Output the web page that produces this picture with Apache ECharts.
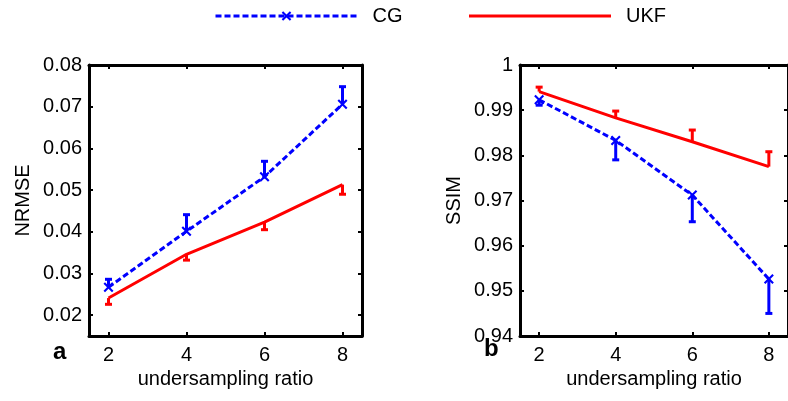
<!DOCTYPE html>
<html>
<head>
<meta charset="utf-8">
<script src="https://cdn.jsdelivr.net/npm/echarts@6/dist/echarts.min.js"></script>
<style>
  html, body { margin: 0; padding: 0; background: #fff; }
  #chart { width: 788px; height: 401px; }
</style>
</head>
<body>
<div id="chart"></div>
<script>
// undersampling ratios on the x axis
var ratios = [2, 4, 6, 8];
var xTicks = [2, 4, 6, 8];
var nrmseTicks = [0.02, 0.03, 0.04, 0.05, 0.06, 0.07, 0.08];
var ssimTicks = [0.94, 0.95, 0.96, 0.97, 0.98, 0.99, 1];

// panel a - NRMSE (mean and end of the one-sided error bar)
var nrmseCG = [0.0267, 0.0401, 0.0532, 0.0706];
var nrmseCGTop = [0.0286, 0.0441, 0.0569, 0.0748];
var nrmseUKF = [0.0241, 0.0346, 0.0423, 0.0513];
var nrmseUKFLow = [0.0226, 0.0332, 0.0405, 0.0490];

// panel b - SSIM
var ssimCG = [0.9923, 0.9833, 0.9712, 0.9526];
var ssimCGLow = [0.9911, 0.9790, 0.9653, 0.9450];
var ssimUKF = [0.9941, 0.9883, 0.9830, 0.9775];
var ssimUKFTop = [0.9951, 0.9898, 0.9856, 0.9808];

var FONT = "'Liberation Sans', Arial, sans-serif";
var BLUE = "#0000ff";
var RED = "#ff0000";
var crossPath = "path://M0,1.5L1.5,0L5,3.5L8.5,0L10,1.5L6.5,5L10,8.5L8.5,10L5,6.5L1.5,10L0,8.5L3.5,5Z";

function pairs(xs, ys) {
  return xs.map(function (x, i) { return [x, ys[i]]; });
}
function triples(xs, a, b) {
  return xs.map(function (x, i) { return [x, a[i], b[i]]; });
}

// vertical error bar with a cap at the far end
function errBar(params, api) {
  var x = api.value(0);
  var p0 = api.coord([x, api.value(1)]);
  var p1 = api.coord([x, api.value(2)]);
  var c = api.visual("color");
  return {
    type: "group",
    children: [
      { type: "line", shape: { x1: p0[0], y1: p0[1], x2: p1[0], y2: p1[1] }, style: { stroke: c, lineWidth: 3 } },
      { type: "line", shape: { x1: p1[0] - 3.5, y1: p1[1], x2: p1[0] + 3.5, y2: p1[1] }, style: { stroke: c, lineWidth: 3 } }
    ]
  };
}

function xAxes(grid) {
  var base = {
    type: "value", gridIndex: grid, min: 1.5, max: 8.5,
    splitLine: { show: false },
    axisLine: { show: true, lineStyle: { color: "#000", width: 3 } },
    axisTick: { show: true, inside: true, length: 4, customValues: xTicks, lineStyle: { color: "#000", width: 2 } }
  };
  var bottom = Object.assign({}, base, {
    position: "bottom",
    name: "undersampling ratio", nameLocation: "middle", nameGap: 30,
    nameTextStyle: { fontSize: 20, color: "#000", fontFamily: FONT },
    axisLabel: { show: true, customValues: xTicks, fontSize: 20, color: "#000", margin: 9, fontFamily: FONT }
  });
  var top = Object.assign({}, base, { position: "top", axisLabel: { show: false } });
  return [bottom, top];
}

function yAxes(grid, min, max, ticks, name, fmt) {
  var base = {
    type: "value", gridIndex: grid, min: min, max: max,
    splitLine: { show: false },
    axisLine: { show: true, lineStyle: { color: "#000", width: 3 } },
    axisTick: { show: true, inside: true, length: 4, customValues: ticks, lineStyle: { color: "#000", width: 2 } }
  };
  var left = Object.assign({}, base, {
    position: "left",
    name: name, nameLocation: "middle", nameGap: 56,
    nameTextStyle: { fontSize: 20, color: "#000", fontFamily: FONT },
    axisLabel: { show: true, customValues: ticks, fontSize: 20, color: "#000", margin: 7, fontFamily: FONT, formatter: fmt }
  });
  var right = Object.assign({}, base, { position: "right", axisLabel: { show: false } });
  return [left, right];
}

var chart = echarts.init(document.getElementById("chart"), null, { renderer: "canvas" });

var option = {
  animation: false,
  backgroundColor: "#fff",
  textStyle: { fontFamily: FONT },
  legend: {
    data: [
      { name: "CG" },
      { name: "UKF", itemStyle: { opacity: 0 } }
    ],
    left: 209,
    top: 1,
    itemWidth: 142,
    itemHeight: 12,
    itemGap: 65,
    lineStyle: { width: 3 },
    textStyle: { fontSize: 20, color: "#000", fontFamily: FONT, padding: [0, 0, 0, 10] }
  },
  grid: [
    { left: 89, top: 65, width: 273, height: 271 },
    { left: 520, top: 65, width: 273, height: 271 }
  ],
  xAxis: xAxes(0).concat(xAxes(1)),
  yAxis: yAxes(0, 0.015, 0.08, nrmseTicks, "NRMSE", function (v) { return v.toFixed(2); })
    .concat(yAxes(1, 0.94, 1, ssimTicks, "SSIM", function (v) { return v >= 0.9999 ? "1" : v.toFixed(2); })),
  graphic: [
    { type: "text", left: 53, top: 340, style: { text: "a", font: "bold 24px " + FONT, fill: "#000" } },
    { type: "text", left: 484, top: 337, style: { text: "b", font: "bold 24px " + FONT, fill: "#000" } }
  ],
  series: [
    // panel a
    { type: "custom", name: "UKF err", xAxisIndex: 0, yAxisIndex: 0, renderItem: errBar,
      itemStyle: { color: RED }, data: triples(ratios, nrmseUKF, nrmseUKFLow), z: 2 },
    { type: "custom", name: "CG err", xAxisIndex: 0, yAxisIndex: 0, renderItem: errBar,
      itemStyle: { color: BLUE }, data: triples(ratios, nrmseCG, nrmseCGTop), z: 2 },
    { type: "line", name: "UKF", xAxisIndex: 0, yAxisIndex: 0, symbol: "none",
      lineStyle: { color: RED, width: 3 }, itemStyle: { color: RED }, data: pairs(ratios, nrmseUKF), z: 3 },
    { type: "line", name: "CG", xAxisIndex: 0, yAxisIndex: 0, symbol: crossPath, symbolSize: 10,
      lineStyle: { color: BLUE, width: 3, type: [6, 3] }, itemStyle: { color: BLUE }, data: pairs(ratios, nrmseCG), z: 4 },
    // panel b
    { type: "custom", name: "UKF err", xAxisIndex: 2, yAxisIndex: 2, renderItem: errBar,
      itemStyle: { color: RED }, data: triples(ratios, ssimUKF, ssimUKFTop), z: 2 },
    { type: "custom", name: "CG err", xAxisIndex: 2, yAxisIndex: 2, renderItem: errBar,
      itemStyle: { color: BLUE }, data: triples(ratios, ssimCG, ssimCGLow), z: 2 },
    { type: "line", name: "UKF", xAxisIndex: 2, yAxisIndex: 2, symbol: "none",
      lineStyle: { color: RED, width: 3 }, itemStyle: { color: RED }, data: pairs(ratios, ssimUKF), z: 3 },
    { type: "line", name: "CG", xAxisIndex: 2, yAxisIndex: 2, symbol: crossPath, symbolSize: 10,
      lineStyle: { color: BLUE, width: 3, type: [6, 3] }, itemStyle: { color: BLUE }, data: pairs(ratios, ssimCG), z: 4 }
  ]
};

chart.setOption(option);
</script>
</body>
</html>
